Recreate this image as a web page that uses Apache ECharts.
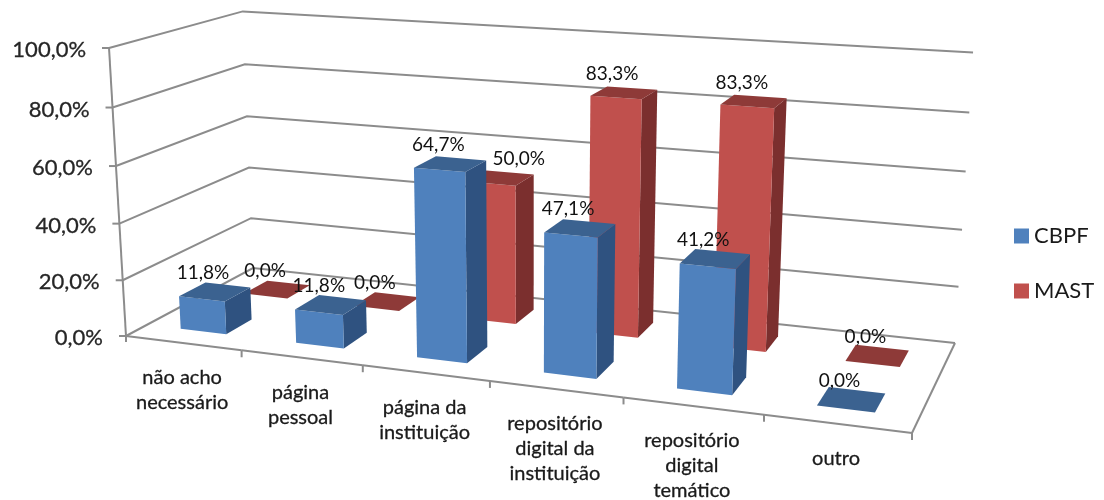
<!DOCTYPE html>
<html>
<head>
<meta charset="utf-8">
<script src="https://cdn.jsdelivr.net/npm/echarts@6/dist/echarts.min.js"></script>
<style>
  html, body { margin: 0; background: #fff; }
  #chart { width: 1104px; height: 500px; }
</style>
</head>
<body>
<div id="chart"></div>
<script>
const categories = ['não acho\nnecessário', 'página\npessoal', 'página da\ninstituição', 'repositório\ndigital da\ninstituição', 'repositório\ndigital\ntemático', 'outro'];
const cbpfValues = [11.8, 11.8, 64.7, 47.1, 41.2, 0];
const mastValues = [0, 0, 50, 83.3, 83.3, 0];
const yTicks = [0, 20, 40, 60, 80, 100];

// floor corners as they land on screen: front-left, front-right, back-right, back-left
const floorQuad = [[126, 336], [912, 433], [955, 343], [253, 268]];
// where the vertical edges meet, and the screen y of the front-left corner at 100%
const verticalVanish = [530, 7190];
const frontLeftTopY = 48;
const fontName = 'Lato';
const lineColor = '#8c8c8c';

function makeFloorMap(q) {
	const [p0, p1, p2, p3] = q;
	const dx1 = p1[0] - p2[0], dx2 = p3[0] - p2[0], sx = p0[0] - p1[0] + p2[0] - p3[0];
	const dy1 = p1[1] - p2[1], dy2 = p3[1] - p2[1], sy = p0[1] - p1[1] + p2[1] - p3[1];
	const det = dx1 * dy2 - dx2 * dy1;
	const g = (sx * dy2 - dx2 * sy) / det;
	const h = (dx1 * sy - sx * dy1) / det;
	const a = p1[0] - p0[0] + g * p1[0], b = p3[0] - p0[0] + h * p3[0];
	const d = p1[1] - p0[1] + g * p1[1], e = p3[1] - p0[1] + h * p3[1];
	return (u, v) => [a * u + b * v + p0[0], d * u + e * v + p0[1], g * u + h * v + 1];
}
const floorMap = makeFloorMap(floorQuad);
const heightScale = (frontLeftTopY - floorQuad[0][1]) / (verticalVanish[1] - frontLeftTopY);

// u along categories, v into the page, h up the value axis (all 0..1)
function project(u, v, h) {
	const f = floorMap(u, v);
	const s = h * heightScale;
	const w = f[2] + s;
	return [(f[0] + s * verticalVanish[0]) / w, (f[1] + s * verticalVanish[1]) / w];
}

// read the hidden axes so every mark goes through the echarts scales
function toUnit(params, api, cat, val) {
	const p = api.coord([cat, val]);
	const cs = params.coordSys;
	return [(p[0] - cs.x) / cs.width, 1 - (p[1] - cs.y) / cs.height];
}

function pct(v) {
	return v.toFixed(1).replace('.', ',') + '%';
}

function line(points, width) {
	return {
		type: 'polyline',
		silent: true,
		shape: { points: points },
		style: { stroke: lineColor, lineWidth: width || 2, fill: null }
	};
}

function label(text, x, y, size, align, vAlign, fill, bold) {
	return {
		type: 'text',
		silent: true,
		style: {
			text: text, x: x, y: y,
			fontFamily: fontName, fontSize: size, lineHeight: 25,
			align: align, verticalAlign: vAlign,
			fill: fill || '#1a1a1a',
			stroke: bold ? (fill || '#1a1a1a') : null,
			lineWidth: bold || 0
		}
	};
}

function renderWall(params, api) {
	const tick = api.value(1);
	const h = toUnit(params, api, 0, tick)[1];
	const fl = project(0, 0, h), bl = project(0, 1, h), br = project(1, 1, h);
	const children = [
		line([fl, bl, br]),
		line([[fl[0] - 7, fl[1]], fl]),
		label(pct(tick), fl[0] - 23, fl[1] + 2, 22, 'right', 'middle', '#262626', 0.3)
	];
	if (tick === 0) {
		children.push(line([project(0, 0, 0), project(0, 0, 1)]));
		children.push(line([project(1, 0, 0), project(1, 1, 0)]));
	}
	return { type: 'group', children: children };
}

function renderCategory(params, api) {
	const cat = api.value(0);
	const mid = toUnit(params, api, cat, 0)[0];
	const half = 0.5 / categories.length;
	const left = project(mid - half, 0, 0), right = project(mid + half, 0, 0), at = project(mid, 0, 0);
	const children = [
		line([left, right]),
		line([right, [right[0], right[1] + 7]]),
		label(categories[cat], at[0] - 1, at[1] + 22, 20, 'center', 'top', '#1a1a1a', 0.3)
	];
	if (cat === 0) children.push(line([left, [left[0], left[1] + 6]]));
	return { type: 'group', children: children };
}

function barRenderer(v0, v1, faces, nudge) {
	return function (params, api) {
		const cat = api.value(0), val = api.value(1);
		const [mid, h] = toUnit(params, api, cat, val);
		const half = 0.2 / categories.length;
		const u0 = mid - half, u1 = mid + half;
		const poly = (pts, fill) => ({
			type: 'polygon', silent: true,
			shape: { points: pts },
			style: { fill: fill }
		});
		const top = project(mid, (v0 + v1) / 2, h);
		// the 50,0% label was dragged aside in the original so it clears the blue bar
		const shift = (nudge && nudge[cat]) || 0;
		return {
			type: 'group',
			children: [
				poly([project(u1, v0, 0), project(u1, v1, 0), project(u1, v1, h), project(u1, v0, h)], faces.side),
				poly([project(u0, v0, 0), project(u1, v0, 0), project(u1, v0, h), project(u0, v0, h)], faces.front),
				poly([project(u0, v0, h), project(u1, v0, h), project(u1, v1, h), project(u0, v1, h)], faces.top),
				label(pct(val), top[0] - 12 + shift, top[1] - 19, 19, 'center', 'middle', '#111')
			]
		};
	};
}

const chart = echarts.init(document.getElementById('chart'));
chart.setOption({
	animation: false,
	backgroundColor: '#fff',
	legend: {
		data: ['CBPF', 'MAST'],
		orient: 'vertical',
		left: 1014,
		top: 225,
		padding: 0,
		icon: 'rect',
		itemWidth: 15,
		itemHeight: 15,
		itemGap: 33,
		textStyle: { fontFamily: fontName, fontSize: 22, color: '#1a1a1a' }
	},
	grid: { left: 0, right: 0, top: 0, bottom: 0 },
	xAxis: { type: 'category', data: categories, show: false },
	yAxis: { type: 'value', min: 0, max: 100, show: false },
	series: [
		{
			type: 'custom', name: 'wall', z: 1, clip: false, silent: true,
			renderItem: renderWall,
			data: yTicks.map(t => [0, t])
		},
		{
			type: 'custom', name: 'categories', z: 1, clip: false, silent: true,
			renderItem: renderCategory,
			data: categories.map((c, i) => [i, 0])
		},
		{
			type: 'custom', name: 'MAST', z: 2, clip: false, silent: true,
			itemStyle: { color: '#C0504D' },
			renderItem: barRenderer(0.65, 0.85, { front: '#C0504D', side: '#7B2F2E', top: '#8E3A38' }, { 2: 30 }),
			data: mastValues.map((v, i) => [i, v])
		},
		{
			type: 'custom', name: 'CBPF', z: 3, clip: false, silent: true,
			itemStyle: { color: '#4F81BD' },
			renderItem: barRenderer(0.15, 0.35, { front: '#4F81BD', side: '#2F5280', top: '#3B6290' }),
			data: cbpfValues.map((v, i) => [i, v])
		}
	]
});
</script>
</body>
</html>
